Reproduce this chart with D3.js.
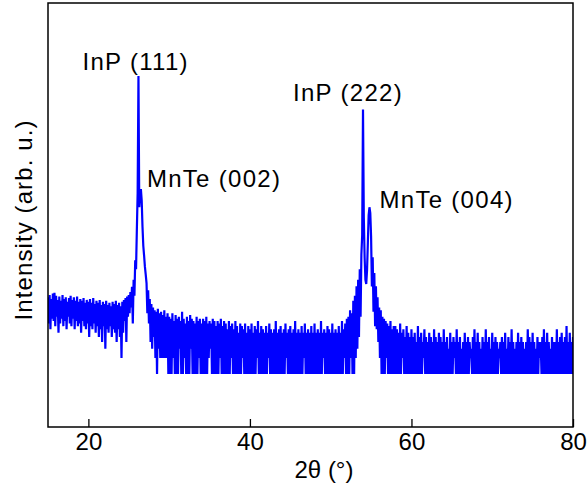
<!DOCTYPE html>
<html>
<head>
<meta charset="utf-8">
<script src="https://cdn.jsdelivr.net/npm/d3@7/dist/d3.min.js"></script>
<style>
  html, body { margin: 0; padding: 0; background: #fff; }
  svg { display: block; }
  text { font-family: "Liberation Sans", Arial, sans-serif; fill: #000; }
</style>
</head>
<body>
<svg id="chart" width="587" height="487"></svg>
<script>
// ---- data: XRD counts, 0.1° step, split into segments by starting 2θ ----
const step = 0.1;
const segStarts = [15.0, 24.5, 30.0, 52.0, 58.0];

const segA = [ // 15.0 – 24.4
  28, 9, 31, 7, 26, 11, 33, 10, 34, 8,
  30, 12, 25, 6, 29, 9, 24, 11, 31, 8,
  26, 10, 28, 7, 23, 12, 27, 9, 30, 8,
  25, 11, 28, 7, 24, 10, 29, 8, 23, 9,
  26, 6, 24, 10, 27, 8, 22, 7, 25, 9,
  23, 5, 26, 8, 22, 7, 27, 9, 21, 6,
  24, 8, 22, 5, 25, 7, 20, 4, 23, 8,
  21, 3, 24, 7, 20, 6, 22, 8, 19, 5,
  23, 7, 21, 6, 24, 4, 20, 7, 22, 5,
  19, 2, 23, 6, 25
];
const segB = [ // 24.5 – 29.9 : InP (111) + MnTe (002)
  10, 27, 4, 29, 12, 31, 14, 35, 18, 44,
  9, 60, 30, 140, 95, 520, 2600, 420000, 1400, 2500,
  3100, 1900, 600, 260, 170, 105, 75, 52, 14, 38,
  9, 26, 4, 21, 3, 18, 5, 16, 2, 15,
  1, 17, 3, 14, 2, 15, 2, 13, 2, 16,
  2, 12, 2, 14, 1
];
const segC = [ // 30.0 – 51.9
  12, 1, 11, 1, 14, 2, 10, 1, 13, 1,
  11, 1, 12, 3, 10, 1, 15, 1, 11, 2,
  9, 1, 12, 1, 10, 1, 13, 3, 11, 1,
  10, 1, 9, 1, 12, 1, 10, 2, 11, 1,
  9, 1, 11, 1, 10, 1, 12, 1, 9, 2,
  10, 3, 9, 1, 11, 1, 10, 1, 8, 1,
  10, 1, 9, 2, 11, 1, 8, 1, 10, 1,
  9, 1, 7, 1, 10, 1, 8, 2, 9, 1,
  7, 1, 10, 1, 8, 1, 6, 1, 9, 1,
  8, 2, 7, 1, 9, 1, 6, 1, 8, 1,
  7, 1, 9, 1, 6, 1, 8, 1, 7, 2,
  10, 1, 6, 1, 8, 1, 7, 1, 6, 1,
  8, 1, 6, 2, 9, 1, 7, 1, 6, 1,
  7, 1, 10, 1, 6, 1, 7, 1, 8, 1,
  6, 1, 7, 1, 9, 2, 6, 1, 7, 1,
  8, 1, 6, 1, 7, 1, 10, 1, 6, 1,
  7, 1, 6, 1, 8, 1, 6, 2, 9, 1,
  6, 1, 7, 1, 6, 1, 8, 1, 6, 1,
  9, 1, 6, 1, 7, 1, 6, 1, 10, 1,
  6, 2, 7, 1, 6, 1, 8, 1, 7, 1,
  6, 1, 9, 1, 6, 1, 7, 1, 6, 1,
  8, 1, 6, 1, 10, 1, 7, 2, 9, 1
];
const segD = [ // 52.0 – 57.9 : InP (222) + MnTe (004)
  11, 1, 12, 1, 16, 2, 14, 1, 24, 1,
  30, 2, 45, 3, 60, 5, 95, 12, 180, 420,
  98000, 900, 160, 60, 50, 90, 300, 1000, 1400, 1100,
  400, 45, 160, 15, 80, 8, 45, 7, 28, 4,
  18, 2, 16, 1, 12, 1, 11, 1, 10, 2,
  9, 1, 8, 1, 10, 1, 7, 1, 8, 1
];
const segE = [ // 58.0 – 80.0
  8, 1, 7, 1, 6, 1, 9, 1, 6, 2,
  7, 1, 5, 1, 8, 1, 6, 1, 5, 1,
  7, 1, 5, 1, 6, 1, 4, 1, 8, 1,
  5, 1, 6, 1, 4, 2, 7, 1, 5, 1,
  4, 1, 6, 1, 5, 1, 4, 1, 7, 1,
  5, 1, 4, 1, 6, 1, 5, 1, 4, 1,
  7, 1, 4, 1, 5, 1, 3, 1, 6, 1,
  4, 1, 5, 2, 4, 1, 7, 1, 4, 1,
  5, 1, 3, 1, 4, 1, 6, 1, 4, 1,
  5, 1, 4, 2, 3, 1, 5, 1, 7, 1,
  4, 1, 6, 1, 4, 1, 3, 1, 5, 1,
  4, 1, 7, 1, 4, 1, 5, 1, 3, 1,
  6, 1, 4, 1, 5, 1, 4, 1, 3, 2,
  4, 1, 5, 1, 4, 1, 6, 1, 3, 1,
  5, 1, 4, 1, 7, 1, 4, 1, 3, 1,
  4, 1, 6, 1, 4, 1, 5, 1, 4, 1,
  3, 1, 4, 1, 7, 1, 5, 1, 4, 1,
  6, 1, 4, 1, 3, 1, 5, 1, 4, 2,
  4, 1, 5, 1, 7, 1, 4, 1, 6, 1,
  4, 1, 3, 1, 5, 1, 4, 1, 4, 1,
  7, 1, 4, 1, 5, 1, 6, 1, 4, 1,
  5, 1, 8, 1, 4, 1, 6, 1, 4, 1,
  5
];
const segments = [segA, segB, segC, segD, segE];

const xTicks = [20, 40, 60, 80];
const xDomain = [15, 80];
const yDomain = [0.1, 1e7];

const peakLabels = ["InP (111)", "MnTe (002)", "InP (222)", "MnTe (004)"];
const peakAngles = [26.2, 26.5, 54.0, 54.8];

const xTitle = "2\u03B8 (\u00B0)";
const yTitle = "Intensity (arb. u.)";

// ---- build ----
const data = [];
segments.forEach((seg, s) => {
  seg.forEach((c, i) => data.push({ t: +(segStarts[s] + i * step).toFixed(2), c }));
});

const L = 48, R = 573, T = 3, B = 427;
const svg = d3.select("#chart");
const x = d3.scaleLinear().domain(xDomain).range([L, R]);
const y = d3.scaleLog().domain(yDomain).range([B, T]);

svg.append("defs").append("clipPath").attr("id", "clip")
  .append("rect").attr("x", L).attr("y", T).attr("width", R - L).attr("height", B - T);

const line = d3.line().x(d => x(d.t)).y(d => y(Math.max(d.c, 0.1)));
svg.append("path")
  .datum(data)
  .attr("clip-path", "url(#clip)")
  .attr("d", line)
  .attr("fill", "none")
  .attr("stroke", "#0000ff")
  .attr("stroke-width", 2.2)
  .attr("stroke-linejoin", "bevel");

// frame
svg.append("rect")
  .attr("x", L).attr("y", T).attr("width", R - L).attr("height", B - T)
  .attr("fill", "none").attr("stroke", "#000").attr("stroke-width", 1.5);

// bottom axis (ticks inward)
const ax = svg.append("g").attr("transform", `translate(0,${B})`)
  .call(d3.axisBottom(x).tickValues(xTicks).tickFormat(d3.format("d"))
    .tickSizeInner(-8).tickSizeOuter(0).tickPadding(6));
ax.select(".domain").remove();
ax.selectAll(".tick line").attr("stroke", "#000").attr("stroke-width", 1.3);
ax.selectAll(".tick text").attr("font-size", 24).attr("font-family", "Liberation Sans, Arial, sans-serif").attr("fill", "#000");

// axis titles
svg.append("text")
  .attr("x", 324).attr("y", 478)
  .attr("text-anchor", "middle").attr("font-size", 24)
  .text(xTitle);

svg.append("text")
  .attr("transform", "translate(32,220) rotate(-90)")
  .attr("text-anchor", "middle").attr("font-size", 24)
  .attr("letter-spacing", 1.1)
  .text(yTitle);

// peak annotations (anchored at left edge)
const labelPos = [
  { dx: -56, baseline: 70 },
  { dx: 6, baseline: 187 },
  { dx: -70, baseline: 101 },
  { dx: 10, baseline: 208 }
];
peakLabels.forEach((lab, i) => {
  svg.append("text")
    .attr("x", x(peakAngles[i]) + labelPos[i].dx)
    .attr("y", labelPos[i].baseline)
    .attr("font-size", 24)
    .attr("letter-spacing", 1.3)
    .text(lab);
});
</script>
</body>
</html>
